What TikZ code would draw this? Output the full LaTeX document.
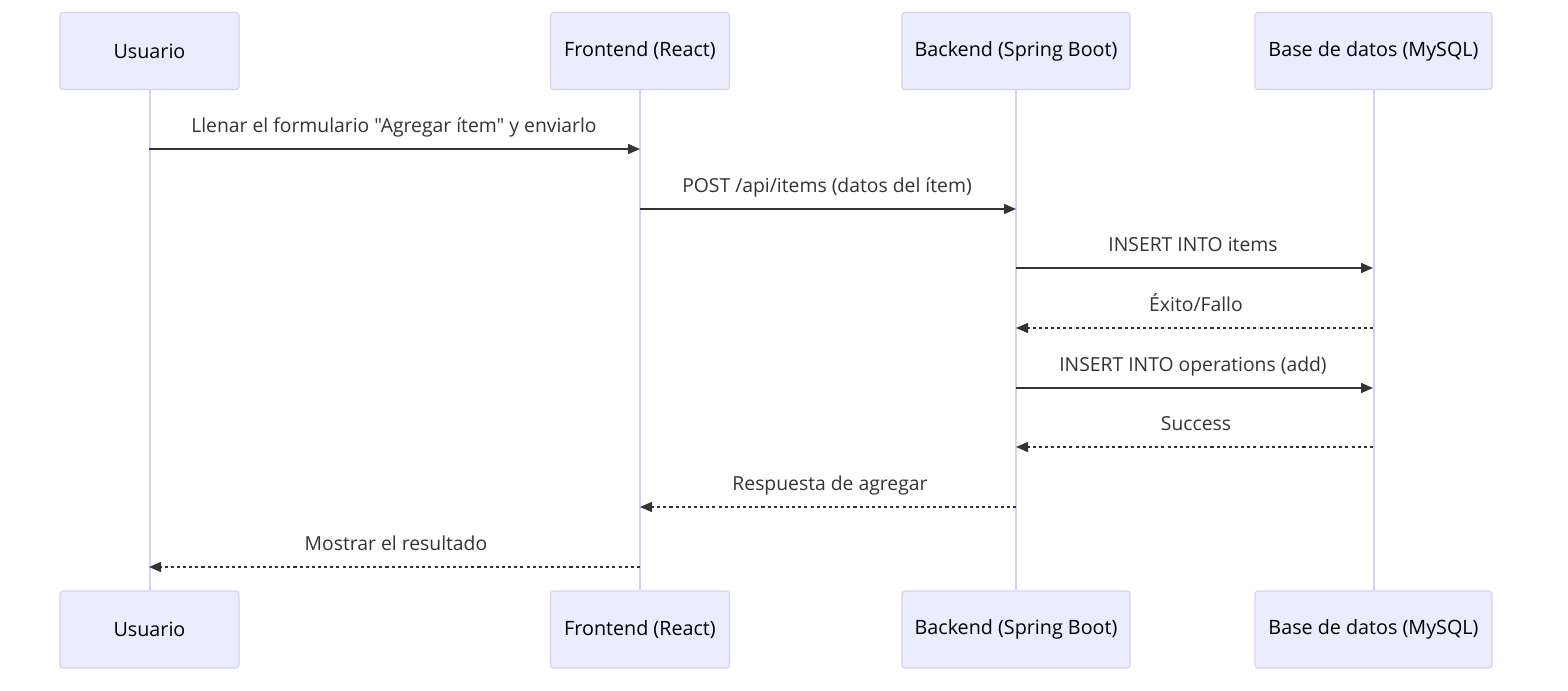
\documentclass[tikz,border=0pt]{standalone}
\usepackage{fontspec}
\setmainfont{Open Sans}[Ligatures=TeXOff]
\usetikzlibrary{arrows.meta}
\definecolor{actfill}{HTML}{ECECFF}
\definecolor{actborder}{HTML}{DAD0F3}
\definecolor{msgcol}{HTML}{333333}
\tikzset{
  actor/.style={draw=actborder, fill=actfill, line width=0.9pt, rounded corners=2.2pt, minimum height=77*0.75pt, inner sep=0pt, font=\fontsize{14.8}{16}\selectfont, text=black},
  life/.style={draw=actborder, line width=1.5pt},
  msg/.style={draw=msgcol, line width=1.1pt, -{Triangle[length=9pt,width=7.5pt]}},
  reply/.style={msg, dash pattern=on 2.3pt off 2.3pt},
  lbl/.style={font=\fontsize{14.5}{16}\selectfont, text=msgcol, anchor=base, inner sep=0pt}
}
\begin{document}
\begin{tikzpicture}[x=0.75pt,y=-0.75pt]
\useasboundingbox (0,0) rectangle (1568,690);
% top actors
\node[actor, minimum width=179*0.75pt] (uT) at (149.5,51) {Usuario};
\node[actor, minimum width=179*0.75pt] (fT) at (640,51) {Frontend (React)};
\node[actor, minimum width=228*0.75pt] (bT) at (1016,51) {Backend (Spring Boot)};
\node[actor, minimum width=237*0.75pt] (dT) at (1373.5,51) {Base de datos (MySQL)};
% bottom actors
\node[actor, minimum width=179*0.75pt] (uB) at (149.5,629.5) {Usuario};
\node[actor, minimum width=179*0.75pt] (fB) at (640,629.5) {Frontend (React)};
\node[actor, minimum width=228*0.75pt] (bB) at (1016,629.5) {Backend (Spring Boot)};
\node[actor, minimum width=237*0.75pt] (dB) at (1373.5,629.5) {Base de datos (MySQL)};
% lifelines
\draw[life] (uT.south) -- (uB.north);
\draw[life] (fT.south) -- (fB.north);
\draw[life] (bT.south) -- (bB.north);
\draw[life] (dT.south) -- (dB.north);
% message anchor coordinates
\coordinate (u1) at (149,149); \coordinate (f1) at (640,149);
\coordinate (f2) at (640,209); \coordinate (b2) at (1016,209);
\coordinate (b3) at (1016,268); \coordinate (d3) at (1373,268);
\coordinate (d4) at (1373,328); \coordinate (b4) at (1016,328);
\coordinate (b5) at (1016,388); \coordinate (d5) at (1373,388);
\coordinate (d6) at (1373,447); \coordinate (b6) at (1016,447);
\coordinate (b7) at (1016,507); \coordinate (f7) at (640,507);
\coordinate (f8) at (640,567); \coordinate (u8) at (149,567);
\draw[msg] (u1) -- (f1);
\draw[msg] (f2) -- (b2);
\draw[msg] (b3) -- (d3);
\draw[reply] (d4) -- (b4);
\draw[msg] (b5) -- (d5);
\draw[reply] (d6) -- (b6);
\draw[reply] (b7) -- (f7);
\draw[reply] (f8) -- (u8);
% labels
\node[lbl] (l1) at (394,132) {Llenar el formulario "Agregar ítem" y enviarlo};
\node[lbl] (l2) at (827,192) {POST /api/items (datos del ítem)};
\node[lbl] (l3) at (1193,251) {INSERT INTO items};
\node[lbl] (l4) at (1196,311) {Éxito/Fallo};
\node[lbl] (l5) at (1193,371) {INSERT INTO operations (add)};
\node[lbl] (l6) at (1196,430) {Success};
\node[lbl] (l7) at (830,490) {Respuesta de agregar};
\node[lbl] (l8) at (396,550) {Mostrar el resultado};
\end{tikzpicture}
\end{document}
